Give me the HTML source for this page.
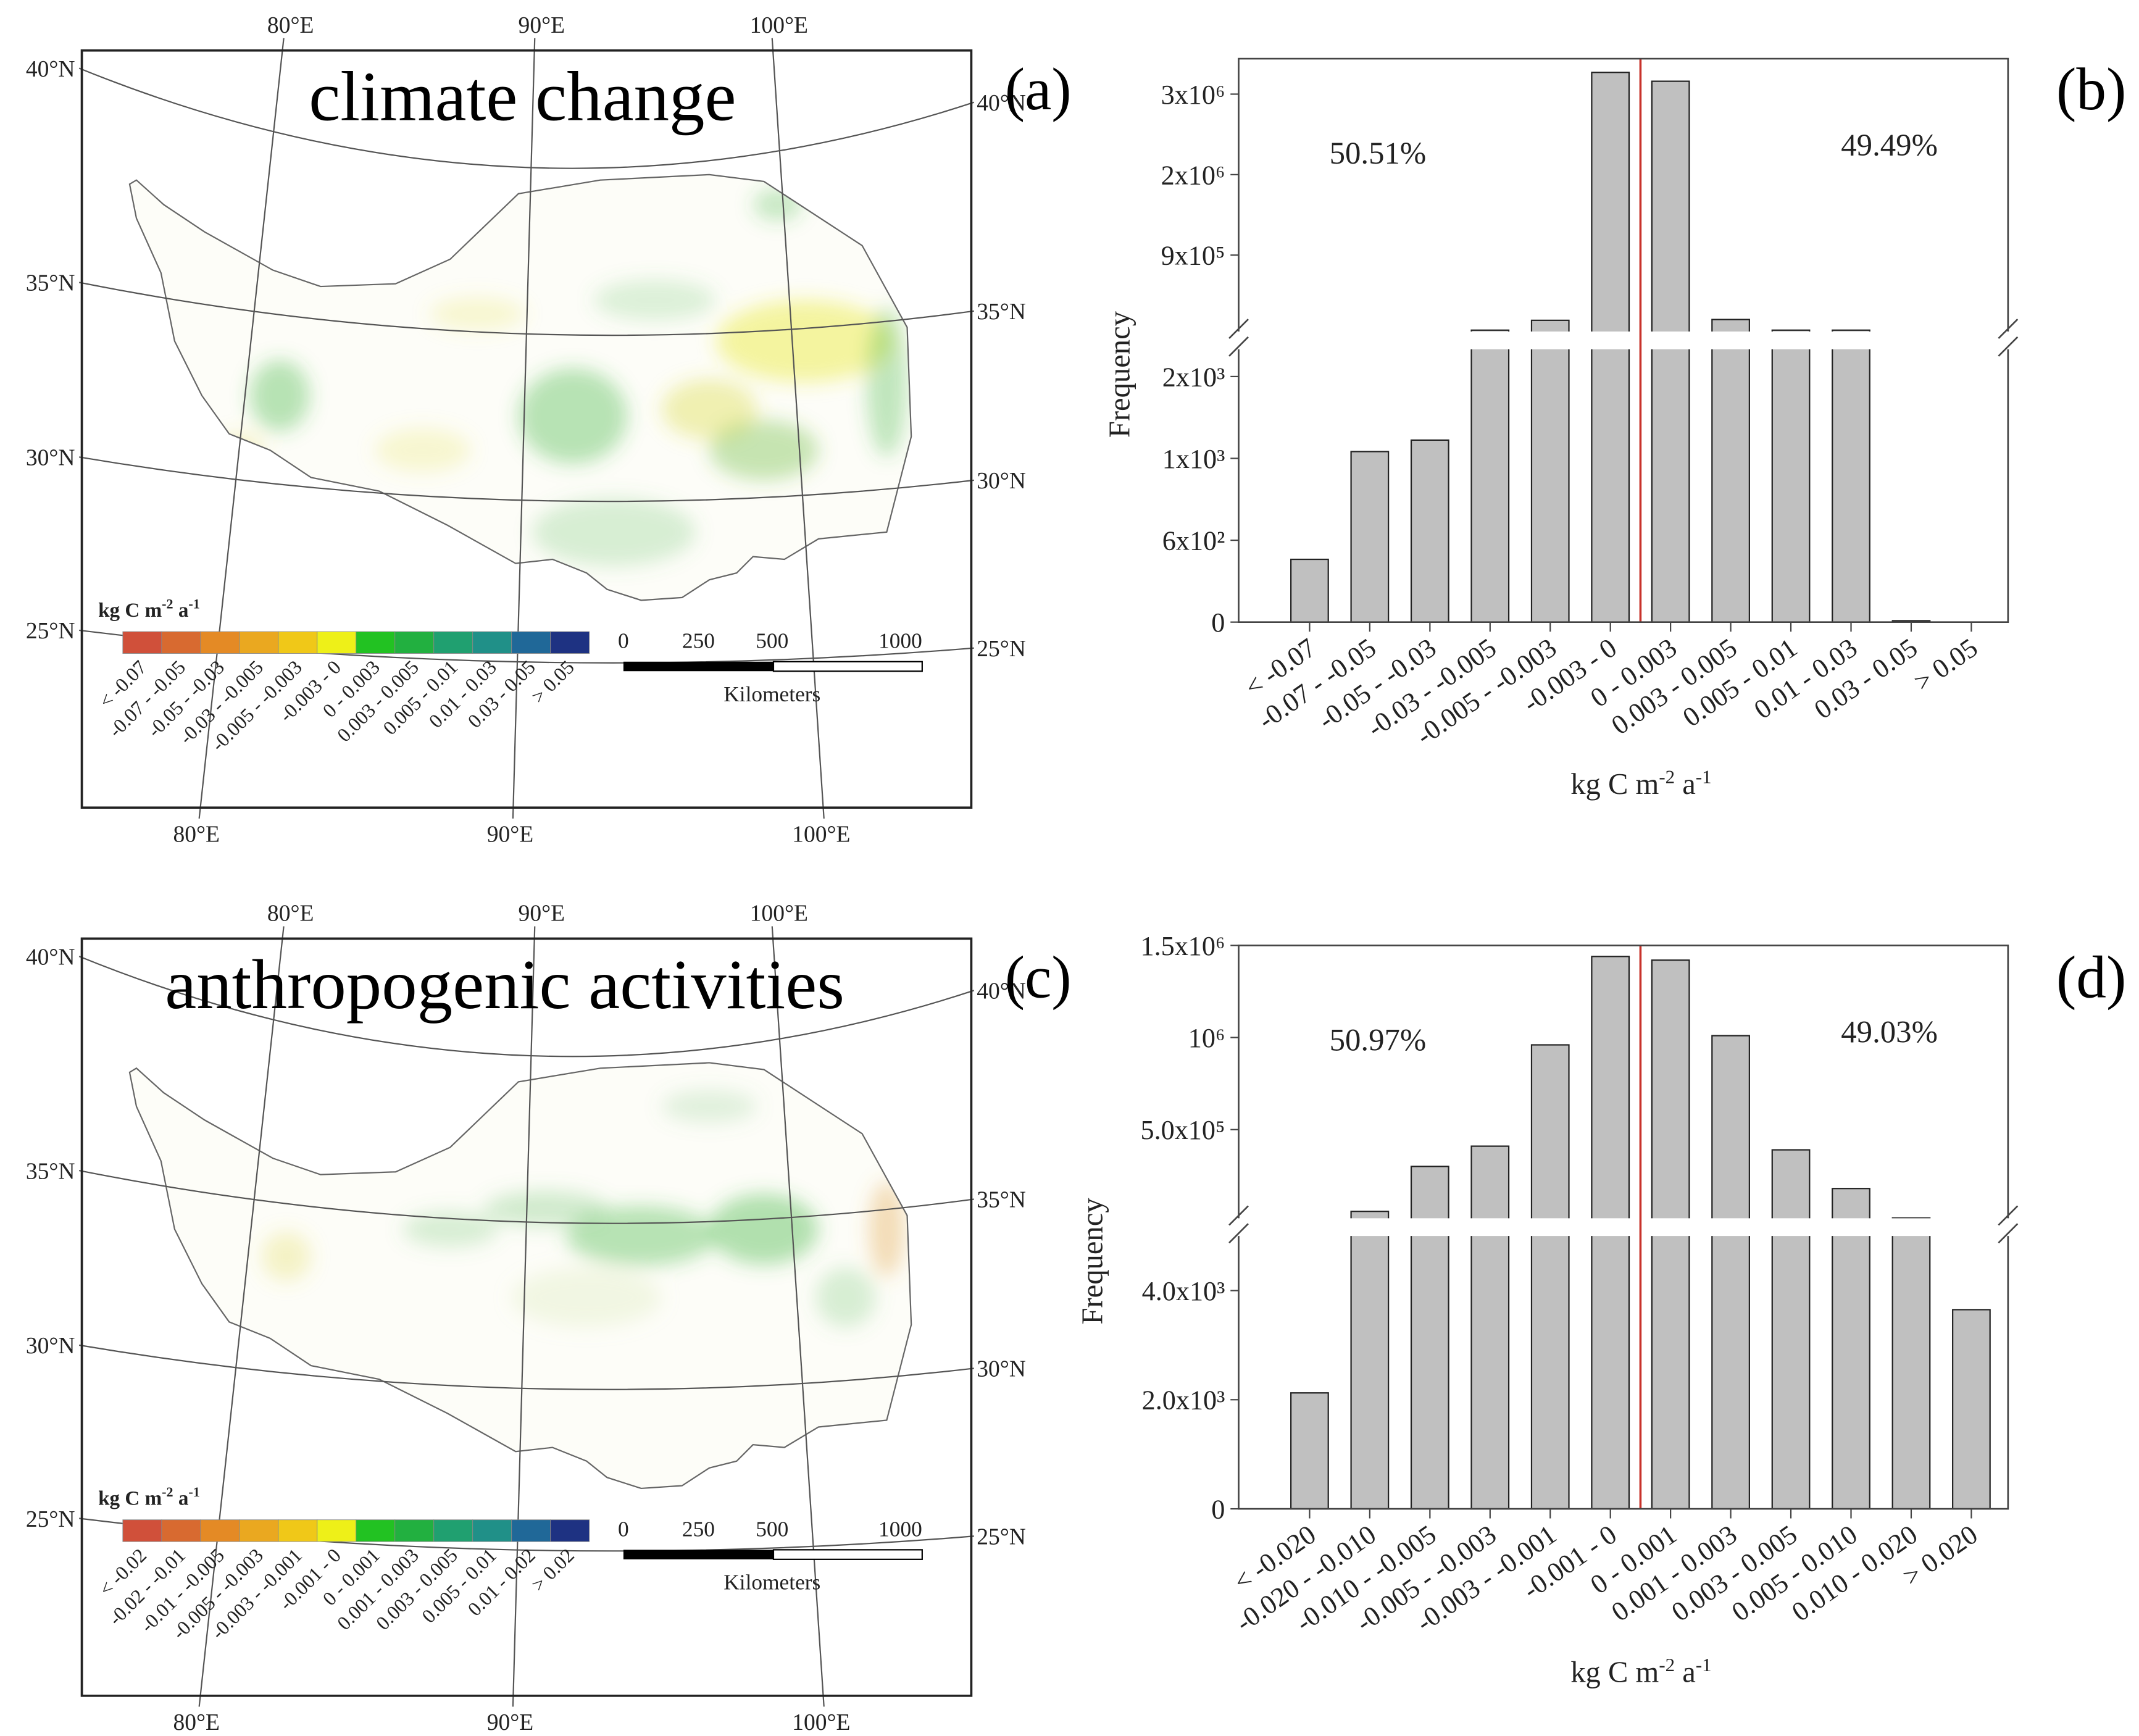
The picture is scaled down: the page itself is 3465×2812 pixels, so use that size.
<!DOCTYPE html>
<html><head><meta charset="utf-8"><style>
html,body{margin:0;padding:0;background:#fff}
svg{display:block}
text{font-family:"Liberation Serif",serif;fill:#222}
</style></head><body>
<svg id="fig" xmlns="http://www.w3.org/2000/svg" width="3465" height="2812" viewBox="0 0 1568 1272.5" preserveAspectRatio="none">
<defs>
<filter id="blur" x="-50%" y="-50%" width="200%" height="200%"><feGaussianBlur stdDeviation="7"/></filter>
<clipPath id="plat"><path d="M95,135 L100,160 L118,200 L128,250 L148,290 L168,318 L198,330 L228,350 L278,360 L328,385 L378,413 L405,410 L430,420 L445,432 L470,440 L500,438 L520,425 L540,420 L552,408 L575,410 L600,395 L650,390 L668,320 L665,240 L632,180 L560,133 L520,128 L440,132 L380,142 L330,190 L290,208 L235,210 L200,198 L150,170 L120,150 L100,132 Z"/></clipPath>
</defs>
<g id="root"></g>
</svg>
<script>
// ---- Histogram data (panel b: climate change) ----
const catsB = ["< -0.07","-0.07 - -0.05","-0.05 - -0.03","-0.03 - -0.005","-0.005 - -0.003","-0.003 - 0","0 - 0.003","0.003 - 0.005","0.005 - 0.01","0.01 - 0.03","0.03 - 0.05","> 0.05"];
const valsB = [460, 1250, 1334, 40000, 190000, 3270000, 3160000, 200000, 30000, 2010, 10, 0];
const lowTicksB = [0, 600, 1200, 1800];
const lowTickLabelsB = ["0","6x10²","1x10³","2x10³"];
const upTicksB = [1000000, 2000000, 3000000];
const upTickLabelsB = ["9x10⁵","2x10⁶","3x10⁶"];
const pctB = ["50.51%","49.49%"];
// ---- Histogram data (panel d: anthropogenic activities) ----
const catsD = ["< -0.020","-0.020 - -0.010","-0.010 - -0.005","-0.005 - -0.003","-0.003 - -0.001","-0.001 - 0","0 - 0.001","0.001 - 0.003","0.003 - 0.005","0.005 - 0.010","0.010 - 0.020","> 0.020"];
const valsD = [2125, 56000, 300000, 410000, 960000, 1440000, 1420000, 1010000, 390000, 180000, 20000, 3650];
const lowTicksD = [0, 2000, 4000];
const lowTickLabelsD = ["0","2.0x10³","4.0x10³"];
const upTicksD = [500000, 1000000, 1500000];
const upTickLabelsD = ["5.0x10⁵","10⁶","1.5x10⁶"];
const pctD = ["50.97%","49.03%"];
// ---- Map legends ----
const legendA = ["< -0.07","-0.07 - -0.05","-0.05 - -0.03","-0.03 - -0.005","-0.005 - -0.003","-0.003 - 0","0 - 0.003","0.003 - 0.005","0.005 - 0.01","0.01 - 0.03","0.03 - 0.05","> 0.05"];
const legendC = ["< -0.02","-0.02 - -0.01","-0.01 - -0.005","-0.005 - -0.003","-0.003 - -0.001","-0.001 - 0","0 - 0.001","0.001 - 0.003","0.003 - 0.005","0.005 - 0.01","0.01 - 0.02","> 0.02"];
const rampColors = ["#d0503a","#d86a30","#e48a25","#eaa820","#f0c818","#eef018","#22c222","#22b040","#20a070","#209088","#206898","#1e3282"];

const NS="http://www.w3.org/2000/svg";
const root=document.getElementById('root');
function mk(tag,attrs,parent,txt){const e=document.createElementNS(NS,tag);for(const k in attrs)e.setAttribute(k,attrs[k]);if(txt!==undefined)e.textContent=txt;(parent||root).appendChild(e);return e;}

function drawMap(dy,title,titleX,letter,labels,patches,nm){
  const g=mk('g',{transform:'translate(0,'+dy+')'});
  
  
  mk('rect',{x:60,y:37,width:652,height:555,fill:'#fff',stroke:'#222','stroke-width':1.6},g);
  const pl=mk('g',{'clip-path':'url(#plat)'},g);
  
  
  mk('rect',{x:60,y:100,width:640,height:360,fill:'#fdfdf8'},pl);
  const pg=mk('g',{filter:'url(#blur)'},pl);
  patches.forEach(p=>mk('ellipse',{cx:p[0],cy:p[1],rx:p[2],ry:p[3],fill:p[4],opacity:p[5]*0.8},pg));
  mk('path',{d:document.querySelector('#plat path').getAttribute('d'),fill:'none',stroke:'#666','stroke-width':1},g);
  const lats=[[50,183,75,'40°N'],[207,272,228,'35°N'],[335,390,352,'30°N'],[462,502,475,'25°N']];
  lats.forEach(l=>{
    const p=mk('path',{d:`M58,${l[0]} Q385,${l[1]} 714,${l[2]}`,fill:'none',stroke:'#555','stroke-width':1},g);
    
    
    mk('text',{x:55,y:l[0]+6,'font-size':17,'text-anchor':'end'},g,l[3]);
    mk('text',{x:716,y:l[2]+6,'font-size':17},g,l[3]);
  });
  const lons=[[208,146,'80°E'],[392,376,'90°E'],[566,604,'100°E']];
  lons.forEach(l=>{
    const p=mk('line',{x1:l[0],y1:28,x2:l[1],y2:600,stroke:'#555','stroke-width':1},g);
    
    
    mk('text',{x:l[0]+5,y:24,'font-size':17,'text-anchor':'middle'},g,l[2]);
    mk('text',{x:l[1]-2,y:617,'font-size':17,'text-anchor':'middle'},g,l[2]);
  });
  mk('rect',{x:60,y:37,width:652,height:555,fill:'none',stroke:'#222','stroke-width':1.6},g);
  const t=mk('text',{x:titleX,y:88,'font-size':52,'text-anchor':'middle',style:'fill:#000'},g,title);
  
  
  mk('text',{x:761,y:80,'font-size':44,'text-anchor':'middle',style:'fill:#000'},g,letter);
  const u=mk('text',{x:72,y:452,'font-size':15,'font-weight':'bold'},g);
  
  
  u.innerHTML='kg C  m<tspan dy="-6" font-size="10">-2</tspan><tspan dy="6"> a</tspan><tspan dy="-6" font-size="10">-1</tspan>';
  const cw=(432-90)/12;
  labels.forEach((lb,i)=>{
    const r=mk('rect',{x:90+i*cw,y:463,width:cw,height:16,fill:rampColors[i],stroke:'#888','stroke-width':0.4},g);
    
    
    const cx=90+i*cw+cw/2+4;
    mk('text',{x:cx,y:490,'font-size':14.5,'text-anchor':'end',transform:`rotate(-45 ${cx} 490)`},g,lb);
  });
  const sb=mk('g',{},g);
  
  
  [[457,'0'],[512,'250'],[566,'500'],[676,'1000']].forEach(s=>mk('text',{x:s[0],y:475,'font-size':16,'text-anchor':s[1]==='1000'?'end':'middle'},sb,s[1]));
  mk('rect',{x:457,y:485,width:110,height:7,fill:'#000'},sb);
  mk('rect',{x:567,y:485,width:109,height:7,fill:'#fff',stroke:'#000','stroke-width':1},sb);
  mk('text',{x:566,y:514,'font-size':16,'text-anchor':'middle'},sb,'Kilometers');
}

function drawHist(cats,vals,lowT,lowL,upT,upL,pct,letter,nm,cfg){
  const g=mk('g',{});
  
  
  const L=908,R=1472,T=cfg.top,B=cfg.bottom;
  const brTop=cfg.brTop, brBot=cfg.brBot;
  const yLow=v=>B-v*cfg.lowK;
  const yUp=v=>cfg.upRefY-(v-cfg.upRef)*cfg.upK;
  const xC=i=>960+i*44.1;
  const bw=27.4;
  vals.forEach((v,i)=>{
    let yt = yLow(v);
    if(yt<brBot){ yt=Math.max(yUp(v),T+2); if(yt>brTop) yt=brTop-1; }
    const r=mk('rect',{x:xC(i)-bw/2,y:yt,width:bw,height:Math.max(B-yt,0),fill:'#c0c0c0',stroke:'#222','stroke-width':1},g);
    
    
  });
  mk('rect',{x:L+2,y:brTop,width:R-L-4,height:brBot-brTop,fill:'#fff'},g);
  const zx=(xC(5)+xC(6))/2;
  const rl=mk('line',{x1:zx,y1:T,x2:zx,y2:B,stroke:'#c8322a','stroke-width':1.6},g);
  
  
  mk('path',{d:`M${L},${brTop} L${L},${T} L${R},${T} L${R},${brTop} M${L},${brBot} L${L},${B} L${R},${B} L${R},${brBot}`,fill:'none',stroke:'#444','stroke-width':1.2},g);
  [L,R].forEach(x=>{
    mk('line',{x1:x-7,y1:brTop+5,x2:x+7,y2:brTop-9,stroke:'#444','stroke-width':1.2},g);
    mk('line',{x1:x-7,y1:brBot+5,x2:x+7,y2:brBot-9,stroke:'#444','stroke-width':1.2},g);
  });
  lowT.forEach((v,i)=>{const y=yLow(v);mk('line',{x1:L-6,y1:y,x2:L,y2:y,stroke:'#444'},g);mk('text',{x:L-10,y:y+7,'font-size':20,'text-anchor':'end'},g,lowL[i]);});
  upT.forEach((v,i)=>{const y=yUp(v);mk('line',{x1:L-6,y1:y,x2:L,y2:y,stroke:'#444'},g);mk('text',{x:L-10,y:y+7,'font-size':20,'text-anchor':'end'},g,upL[i]);});
  cats.forEach((c,i)=>{
    const x=xC(i);
    mk('line',{x1:x,y1:B,x2:x,y2:B+7,stroke:'#444'},g);
    const t=mk('text',{x:x+6,y:B+22,'font-size':20,'text-anchor':'end',transform:`rotate(-35 ${x+6} ${B+22})`},g,c);
    
    
  });
  const yt=mk('text',{x:0,y:0,'font-size':22,'text-anchor':'middle',transform:`translate(${cfg.ytX},${(T+B)/2+25}) rotate(-90)`},g,'Frequency');
  
  
  const xt=mk('text',{x:1203,y:cfg.xtY,'font-size':22,'text-anchor':'middle'},g);
  
  
  xt.innerHTML='kg C m<tspan dy="-8" font-size="14">-2</tspan><tspan dy="8"> a</tspan><tspan dy="-8" font-size="14">-1</tspan>';
  mk('text',{x:1010,y:cfg.pY,'font-size':23,'text-anchor':'middle'},g,pct[0]);
  mk('text',{x:1385,y:cfg.pY-6,'font-size':23,'text-anchor':'middle'},g,pct[1]);
  mk('text',{x:1533,y:cfg.letterY,'font-size':44,'text-anchor':'middle',style:'fill:#000'},g,letter);
}

const patchesA=[
 [420,305,40,35,'#3cb43c',0.45],[205,290,22,26,'#3cb43c',0.45],[590,250,65,30,'#e8e830',0.55],
 [520,300,35,22,'#d8d830',0.45],[560,330,40,22,'#66b830',0.45],[650,280,15,55,'#3cb43c',0.4],
 [310,330,35,16,'#e8e050',0.3],[450,390,60,25,'#5cbc5c',0.3],[350,230,35,12,'#e8e050',0.3],
 [480,220,45,15,'#5cbc5c',0.25],[175,330,18,12,'#e0d840',0.35],[570,150,18,12,'#3cb43c',0.35]];
const patchesC=[
 [560,250,40,26,'#3cb43c',0.5],[470,255,55,22,'#3cb43c',0.45],[650,250,13,35,'#e0a040',0.45],
 [400,235,45,13,'#5cbc5c',0.35],[210,270,18,18,'#e0d840',0.35],[430,300,55,22,'#cce0a0',0.3],
 [330,250,35,13,'#5cbc5c',0.3],[620,300,22,22,'#5cbc5c',0.3],[520,160,35,12,'#6cc06c',0.25]];

drawMap(0,'climate change',383,'(a)',legendA,patchesA,'map-climate-change');
drawMap(651,'anthropogenic activities',370,'(c)',legendC,patchesC,'map-anthropogenic');
drawHist(catsB,valsB,lowTicksB,lowTickLabelsB,upTicksB,upTickLabelsB,pctB,'(b)','histogram-climate-change',
 {top:43,bottom:456,brTop:243,brBot:256,lowK:0.1,upRef:1000000,upRefY:187,upK:59e-6,ytX:828,xtY:582,pY:120,letterY:80});
drawHist(catsD,valsD,lowTicksD,lowTickLabelsD,upTicksD,upTickLabelsD,pctD,'(d)','histogram-anthropogenic',
 {top:693,bottom:1106,brTop:893,brBot:906,lowK:0.04,upRef:500000,upRefY:828,upK:135e-6,ytX:808,xtY:1233,pY:770,letterY:731});
</script>
</body></html>
